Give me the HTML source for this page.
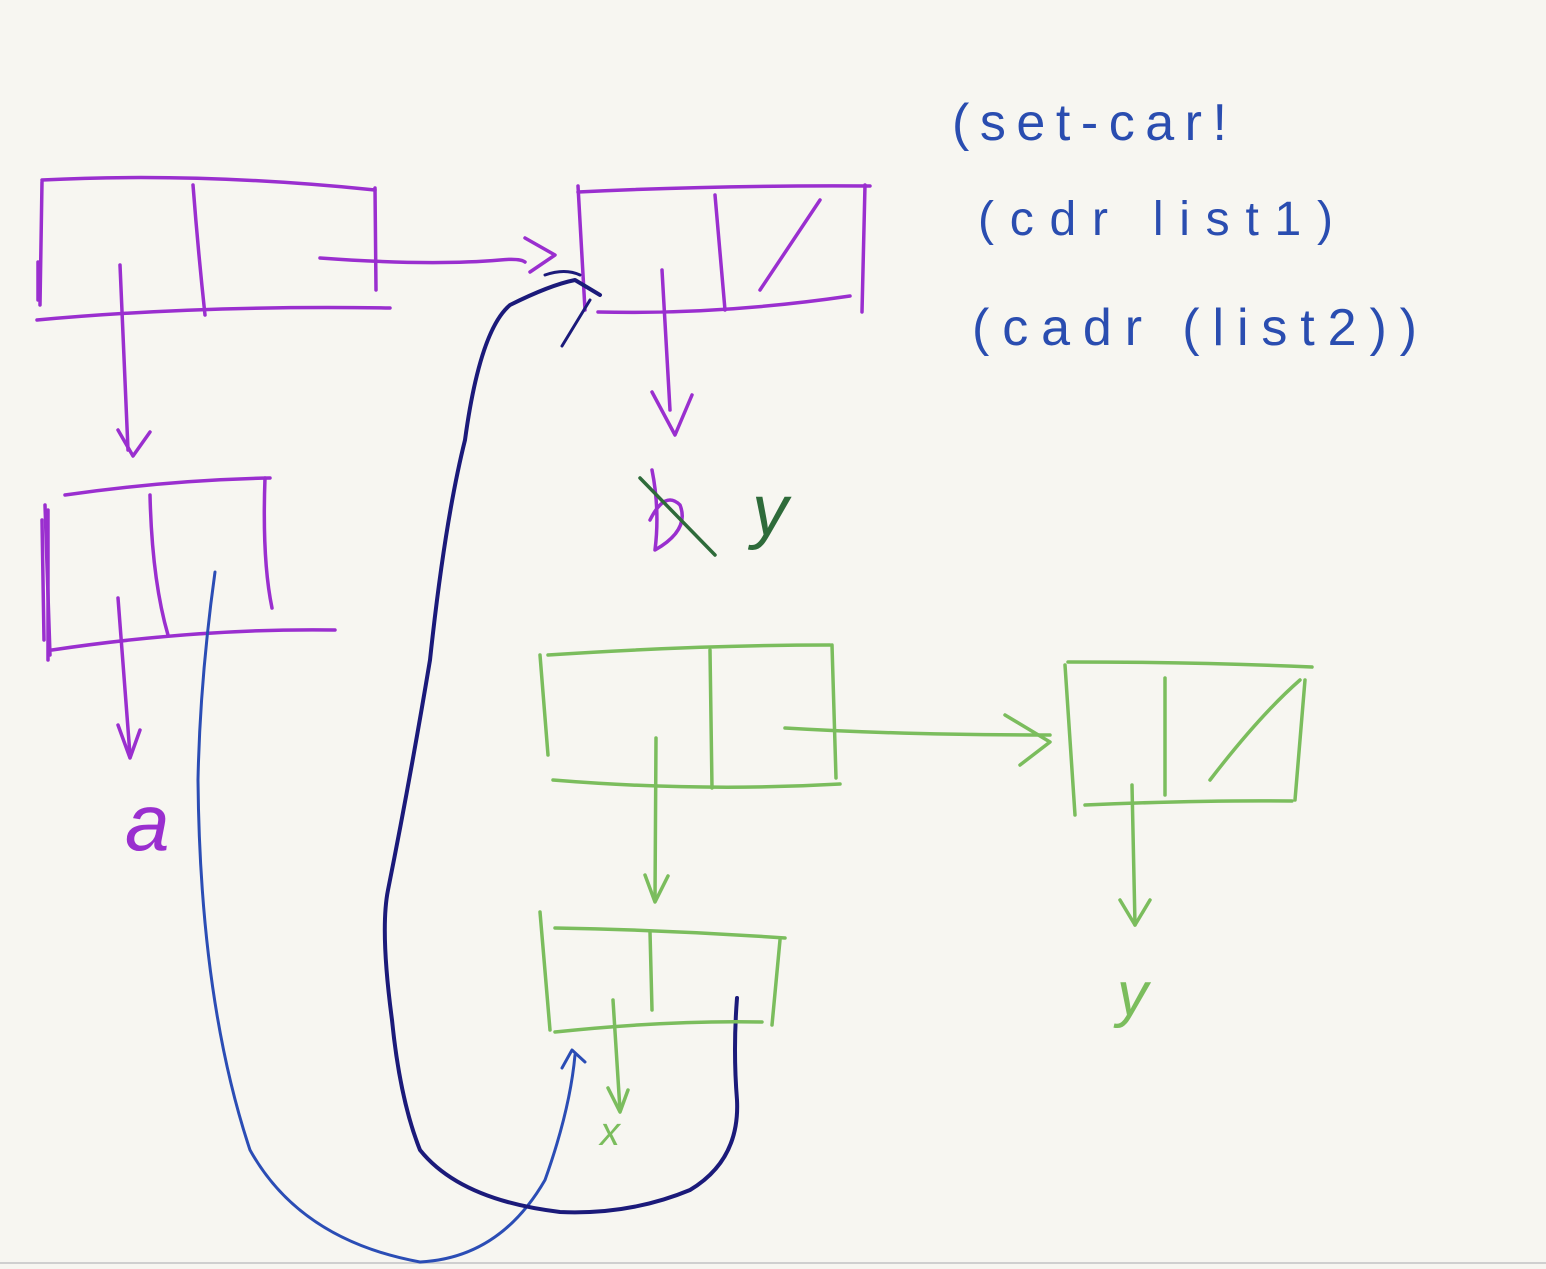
<!DOCTYPE html>
<html><head><meta charset="utf-8"><style>
html,body{margin:0;padding:0;background:#f7f6f1;}
svg{display:block}
text{font-family:"Liberation Sans",sans-serif;}
</style></head><body>
<svg width="1546" height="1269" viewBox="0 0 1546 1269" xmlns="http://www.w3.org/2000/svg" fill="none" stroke-linecap="round" stroke-linejoin="round">
<rect width="1546" height="1269" fill="#f7f6f1" stroke="none"/>
<line x1="0" y1="1263" x2="1546" y2="1263" stroke="#cfcfcf" stroke-width="2"/>

<!-- purple -->
<g stroke="#9a2fcf" stroke-width="3.5">
<path d="M42 180 Q200 172 375 190"/>
<path d="M42 182 L40 305"/><path d="M38 262 L38 300"/>
<path d="M37 320 Q200 305 390 308"/>
<path d="M193 185 Q198 250 205 315"/>
<path d="M375 188 L376 290"/>
<path d="M320 258 Q430 266 500 260 Q520 258 525 262"/>
<path d="M525 238 L555 255 L530 272"/>
<path d="M120 265 L128 450"/>
<path d="M118 430 L133 456 L150 432"/>

<path d="M578 192 Q720 185 870 186"/>
<path d="M578 186 L585 310"/>
<path d="M865 185 L862 312"/>
<path d="M598 312 Q720 315 850 296"/>
<path d="M715 195 L725 310"/>
<path d="M760 290 L820 200"/>
<path d="M662 270 L670 410"/>
<path d="M652 392 L675 435 L692 395"/>

<path d="M65 495 Q170 480 270 478"/>
<path d="M45 505 L50 655"/><path d="M42 520 L44 640"/><path d="M48 510 L48 660"/>
<path d="M265 478 Q262 560 272 608"/>
<path d="M52 650 Q200 628 335 630"/>
<path d="M150 495 Q152 580 168 635"/>
<path d="M118 598 L130 755"/>
<path d="M118 725 L130 758 L140 730"/>
<path d="M652 470 Q660 510 655 550 Q690 530 680 505 Q665 490 650 520"/>
</g>
<text x="125" y="850" font-size="80" fill="#9a2fcf" font-style="italic" stroke="none">a</text>

<!-- cross and y -->
<path d="M640 478 L715 555" stroke="#2e6b3a" stroke-width="3.5"/>
<text x="752" y="535" font-size="72" fill="#2e6b3a" font-style="italic" stroke="none">y</text>

<!-- blue text -->
<g fill="#2a4db0" stroke="none">
<text x="952" y="140" font-size="52" textLength="275" lengthAdjust="spacing">(set-car!</text>
<text x="978" y="235" font-size="48" textLength="355" lengthAdjust="spacing">(cdr  list1)</text>
<text x="972" y="345" font-size="52" textLength="445" lengthAdjust="spacing">(cadr  (list2))</text>
</g>

<!-- blue line -->
<path d="M215 572 Q200 680 198 780 Q200 1000 250 1150 Q300 1240 420 1262 Q500 1258 545 1180 Q570 1110 575 1055" stroke="#2b4db5" stroke-width="3"/>
<path d="M562 1068 L572 1050 L585 1062" stroke="#2b4db5" stroke-width="3"/>

<!-- navy curve -->
<path d="M737 998 Q733 1050 737 1100 Q740 1160 690 1190 Q630 1215 560 1212 Q460 1200 420 1150 Q400 1100 392 1020 Q380 930 388 890 Q410 780 430 660 Q445 520 465 440 Q480 330 510 305 Q550 285 575 280 L600 295" stroke="#1b1a7a" stroke-width="4"/>
<path d="M545 275 Q565 268 580 275 M590 300 L562 346" stroke="#1b1a7a" stroke-width="3"/>

<!-- green -->
<g stroke="#7bbd5d" stroke-width="3.5">
<path d="M548 655 Q700 645 830 645"/>
<path d="M540 655 L548 755"/>
<path d="M832 645 L836 778"/>
<path d="M553 780 Q700 792 840 784"/>
<path d="M710 650 L712 788"/>
<path d="M785 728 Q900 735 1050 735"/>
<path d="M1005 715 L1050 742 L1020 765"/>
<path d="M656 738 L655 900"/>
<path d="M645 875 L655 902 L668 876"/>

<path d="M1068 662 Q1200 662 1312 667"/>
<path d="M1065 665 L1075 815"/>
<path d="M1305 680 L1295 800"/>
<path d="M1085 805 Q1200 800 1292 801"/>
<path d="M1165 678 L1165 795"/>
<path d="M1210 780 Q1260 715 1300 680"/>
<path d="M1132 785 L1135 925"/>
<path d="M1120 900 L1135 925 L1150 900"/>

<path d="M555 928 Q670 930 785 938"/>
<path d="M540 912 L550 1030"/>
<path d="M780 940 L772 1025"/>
<path d="M555 1032 Q670 1020 762 1022"/>
<path d="M650 932 L652 1010"/>
<path d="M613 1000 L620 1110"/>
<path d="M608 1088 L620 1112 L628 1090"/>
</g>
<text x="1117" y="1015" font-size="62" fill="#7bbd5d" font-style="italic" stroke="none">y</text>
<text x="600" y="1145" font-size="40" fill="#7bbd5d" font-style="italic" stroke="none">x</text>
</svg>
</body></html>
